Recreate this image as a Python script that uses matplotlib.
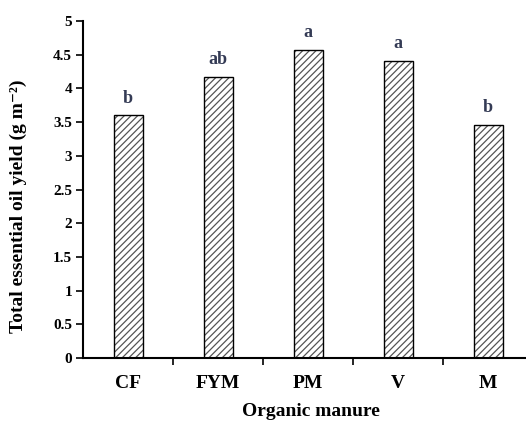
import matplotlib.pyplot as plt
import numpy as np

plt.rcParams['font.family'] = ['Liberation Serif', 'DejaVu Serif']
plt.rcParams['hatch.linewidth'] = 0.9

categorias = ['CF', 'FYM', 'PM', 'V', 'M']
rendimento = [3.60, 4.17, 4.57, 4.41, 3.46]
letras = ['b', 'ab', 'a', 'a', 'b']
yticks = [0, 0.5, 1, 1.5, 2, 2.5, 3, 3.5, 4, 4.5, 5]
ytick_labels = ['0', '0.5', '1', '1.5', '2', '2.5', '3', '3.5', '4', '4.5', '5']


def gerar_grafico():
    fig = plt.figure(figsize=(5.26, 4.23), dpi=100)
    ax = fig.add_axes([0.158, 0.154, 0.842, 0.796])

    x = np.arange(len(categorias))
    # hachura cinza por baixo, contorno preto por cima
    ax.bar(x, rendimento, 0.32, color='white', edgecolor='#555555',
           linewidth=0, hatch='/////')
    ax.bar(x, rendimento, 0.32, fill=False, edgecolor='black', linewidth=1.0)

    for xi, v, t in zip(x, rendimento, letras):
        ax.text(xi, v + 0.13, t, ha='center', va='bottom', fontsize=13,
                fontweight='bold', color='#343b55')

    ax.set_xlim(-0.5, 4.42)
    ax.set_ylim(0, 5)

    ax.set_yticks(yticks)
    ax.set_yticklabels(ytick_labels, fontsize=11, fontweight='bold')
    ax.set_xticks(x)
    ax.set_xticklabels(categorias, fontsize=14, fontweight='bold')
    ax.tick_params(axis='x', length=0, pad=12)
    ax.tick_params(axis='y', direction='out', length=5, width=1.2, pad=3)
    ax.set_xticks(np.arange(0.5, 4.0, 1.0), minor=True)
    ax.tick_params(axis='x', which='minor', direction='out', length=5, width=1.2)

    for lado in ['top', 'right']:
        ax.spines[lado].set_visible(False)
    for lado in ['left', 'bottom']:
        ax.spines[lado].set_linewidth(1.5)

    ax.set_xlabel('Organic manure', fontsize=14, fontweight='bold')
    ax.xaxis.set_label_coords(0.515, -0.135)
    ax.set_ylabel('Total essential oil yield (g m⁻²)', fontsize=14,
                  fontweight='bold')
    ax.yaxis.set_label_coords(-0.126, 0.45)

    fig.savefig('out.png', dpi=100)


if __name__ == "__main__":
    gerar_grafico()
